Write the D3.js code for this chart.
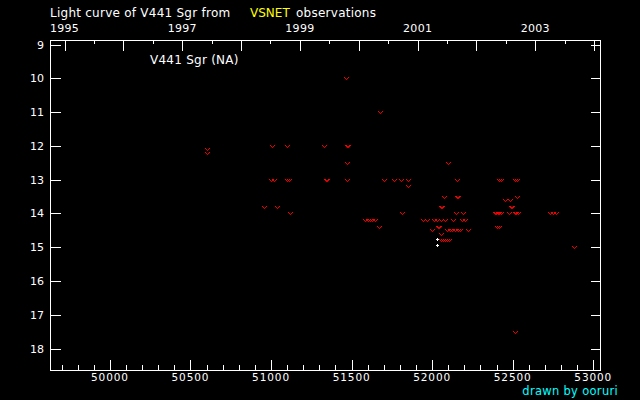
<!DOCTYPE html>
<html><head><meta charset="utf-8">
<script src="https://cdn.jsdelivr.net/npm/d3@7"></script>
<style>html,body{margin:0;padding:0;background:#000;}svg{display:block;}</style>
</head><body>
<svg id="c" width="640" height="400"></svg>
<script>
// fainter-than observations (upper limits)
const limitMjd = [50600,50605,50957,50997,51009,51017,51038,51100,51100,51110,51117,51330,51340,51350,51468,51472,51472,51470,51478,
  51582,51600,51615,51625,51645,51671,51675,51702,51764,51808,51814,51853,51853,51944,51971,51999,52012,52033,52037,52045,52053,52053,
  52057,52062,52057,52068,52080,52092,52105,52074,52078,52095,52099,52110,52125,52140,52150,52155,52157,52162,52160,52175,52130,52185,
  52190,52202,52223,52388,52398,52408,52418,52430,52403,52413,52418,52428,52450,52477,52481,52487,52495,52512,52513,52517,52525,52522,
  52530,52527,52730,52750,52768,52878];
const limitMag = [12.1,12.2,13.8,13.0,12.0,13.0,13.8,12.0,13.0,13.0,14.0,12.0,13.0,13.0,10.0,12.5,13.0,12.0,12.0,
  14.2,14.2,14.2,14.2,14.2,14.4,11.0,13.0,13.0,13.0,14.0,13.0,13.2,14.2,14.2,14.5,14.2,14.2,14.4,14.4,14.2,14.6,
  13.8,13.8,14.8,14.8,14.8,14.8,14.8,13.5,14.2,14.5,12.5,14.5,14.5,14.5,14.0,13.0,13.5,13.5,14.5,14.5,14.2,14.2,
  14.0,14.2,14.5,14.0,14.0,14.0,14.0,14.0,14.4,14.4,13.0,13.0,13.6,14.0,13.6,13.8,13.8,14.0,17.5,13.0,13.0,14.0,
  14.0,13.5,14.0,14.0,14.0,15.0];
// positive observations
const posMjd = [52030,52030];
const posMag = [14.75,14.93];
const magTicks = [9,10,11,12,13,14,15,16,17,18];
const mjdTicks = [50000,50500,51000,51500,52000,52500,53000];
const yearTicks = [1995,1996,1997,1998,1999,2000,2001,2002,2003,2004];
const yearLabels = [1995,1997,1999,2001,2003];

const svg = d3.select("#c");
svg.append("rect").attr("width",640).attr("height",400).attr("fill","#000");
const x = d3.scaleLinear().domain([49631,53045]).range([50.5,600.5]);
const y = d3.scaleLinear().domain([8.88,18.65]).range([40.5,370.5]);
const font = "DejaVu Sans";
const mjdOfYear = yr => (Date.UTC(yr,0,1) - Date.UTC(1858,10,17))/86400000;

// frame
svg.append("rect").attr("x",50.5).attr("y",40.5).attr("width",550).attr("height",329.5)
  .attr("fill","none").attr("stroke","#fff").attr("stroke-width",1).attr("shape-rendering","crispEdges");

// ticks
const g = svg.append("g").attr("stroke","#fff").attr("stroke-width",1).attr("shape-rendering","crispEdges");
magTicks.forEach(m=>{
  const yy = Math.round(y(m))+0.5;
  g.append("line").attr("x1",50.5).attr("x2",60.5).attr("y1",yy).attr("y2",yy);
  g.append("line").attr("x1",590.5).attr("x2",600.5).attr("y1",yy).attr("y2",yy);
});
d3.range(49700,53045,100).forEach(d=>{
  const xx = Math.round(x(d))+0.5;
  const major = d%500===0;
  g.append("line").attr("x1",xx).attr("x2",xx).attr("y1",370).attr("y2",major?360:365);
});
yearTicks.forEach(yr=>{
  const xx = Math.round(x(mjdOfYear(yr)))+0.5;
  g.append("line").attr("x1",xx).attr("x2",xx).attr("y1",40.5).attr("y2",50.5);
  const xh = x(mjdOfYear(yr)+182.6);
  if (xh < 600) g.append("line").attr("x1",Math.round(xh)+0.5).attr("x2",Math.round(xh)+0.5).attr("y1",40.5).attr("y2",43.5);
});

// labels
const t = svg.append("g").attr("font-family",font).attr("fill","#fff");
magTicks.forEach(m=>{
  t.append("text").attr("x",44).attr("y",y(m)).attr("dy","0.36em").attr("text-anchor","end")
   .attr("font-size",11).text(m);
});
mjdTicks.forEach(d=>{
  t.append("text").attr("x",x(d)).attr("y",381).attr("text-anchor","middle")
   .attr("font-size",10.5).attr("letter-spacing",0.9).text(d);
});
yearLabels.forEach(yr=>{
  t.append("text").attr("x",x(mjdOfYear(yr))).attr("y",32).attr("text-anchor","middle")
   .attr("font-size",11).attr("letter-spacing",0.3).text(yr);
});
t.append("text").attr("x",50).attr("y",16.5).attr("font-size",12).attr("letter-spacing",0.25).text("Light curve of V441 Sgr from");
t.append("text").attr("x",250).attr("y",16.5).attr("font-size",12).attr("fill","#ffff00").text("VSNET");
t.append("text").attr("x",296).attr("y",16.5).attr("font-size",12).attr("letter-spacing",0.25).text("observations");
t.append("text").attr("x",150).attr("y",64).attr("font-size",12).attr("letter-spacing",0.25).text("V441 Sgr (NA)");
t.append("text").attr("x",618).attr("y",395).attr("text-anchor","end").attr("font-size",11.5).attr("letter-spacing",0.3)
  .attr("fill","#00ffff").text("drawn by ooruri");

// upper limits
const lim = limitMjd.map((d,i)=>({d, m:limitMag[i]}));
svg.append("g").selectAll("path").data(lim).join("path")
  .attr("transform",p=>`translate(${Math.round(x(p.d))+0.5},${Math.round(y(p.m))+0.5})`)
  .attr("d","M-2.5,-1.5L0,1.2L2.5,-1.5")
  .attr("fill","none").attr("stroke","#ff0000").attr("stroke-width",1);
// positive
const pos = posMjd.map((d,i)=>({d, m:posMag[i]}));
svg.append("g").selectAll("path").data(pos).join("path")
  .attr("transform",p=>`translate(${Math.round(x(p.d))+0.5},${Math.round(y(p.m))+0.5})`)
  .attr("d","M-1.5,0H1.5M0,-1.5V1.5")
  .attr("fill","none").attr("stroke","#fff").attr("stroke-width",1).attr("shape-rendering","crispEdges");
</script>
</body></html>
